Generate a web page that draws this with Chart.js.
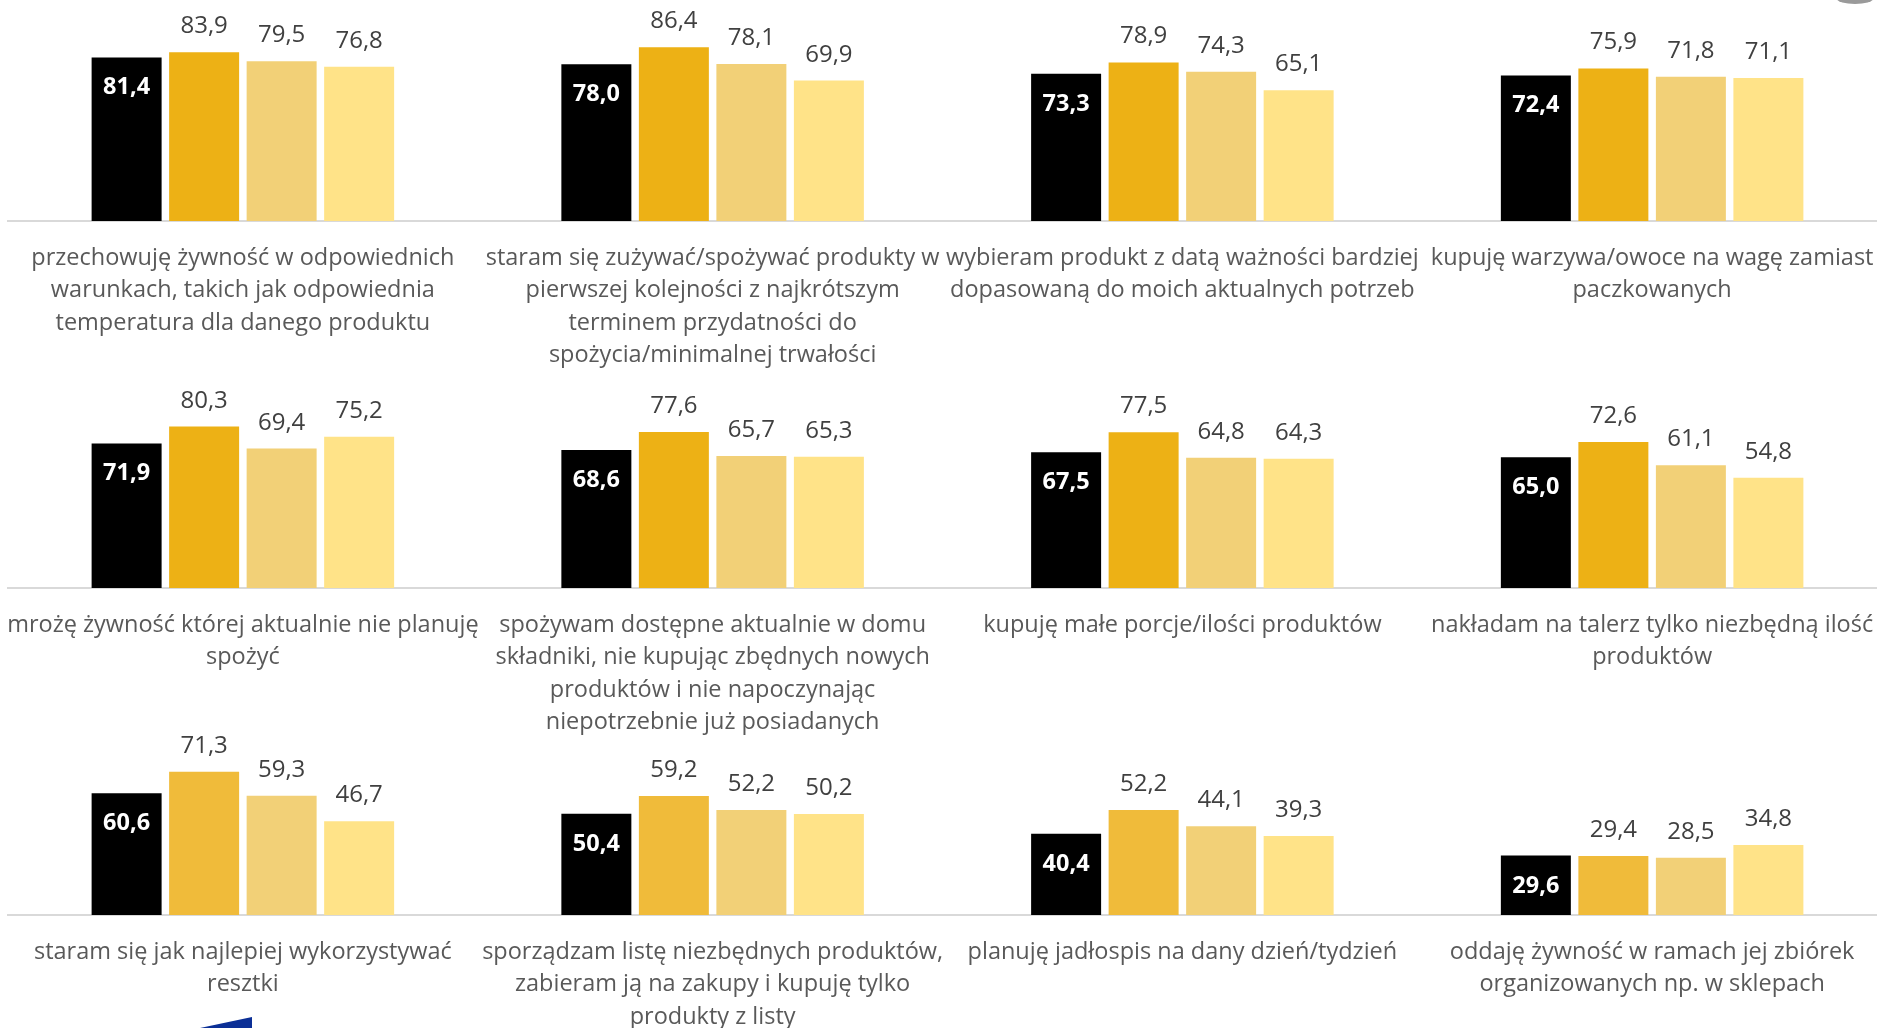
<!DOCTYPE html>
<html lang="pl">
<head>
<meta charset="utf-8">
<title>Zachowania ograniczające marnowanie żywności</title>
<script src="https://cdn.jsdelivr.net/npm/chart.js@4.4.1/dist/chart.umd.min.js"></script>
<style>
  html, body { margin: 0; padding: 0; background: #fff; overflow: hidden; }
  .page { position: relative; width: 1877px; height: 1028px; overflow: hidden; }
  .page canvas { position: absolute; }
  .blob { position: absolute; left: 1837px; top: -6px; width: 36px; height: 10px; border-radius: 50%; background: #9a9a9a; }
  .flag { position: absolute; left: 200px; top: 1017px; width: 52px; height: 11px; background: #0b2f96; clip-path: polygon(0 100%, 100% 0, 100% 100%); }
</style>
</head>
<body>
<div class="page" id="page">
  <div class="blob"></div>
  <div class="flag"></div>
</div>
<script>
const seriesNames = ["Seria 1", "Seria 2", "Seria 3", "Seria 4"];

const categoriesTop = [
  ["przechowuję żywność w odpowiednich", "warunkach, takich jak odpowiednia", "temperatura dla danego produktu"],
  ["staram się zużywać/spożywać produkty w", "pierwszej kolejności z najkrótszym", "terminem przydatności do", "spożycia/minimalnej trwałości"],
  ["wybieram produkt z datą ważności bardziej", "dopasowaną do moich aktualnych potrzeb"],
  ["kupuję warzywa/owoce na wagę zamiast", "paczkowanych"]
];
const categoriesMiddle = [
  ["mrożę żywność której aktualnie nie planuję", "spożyć"],
  ["spożywam dostępne aktualnie w domu", "składniki, nie kupując zbędnych nowych", "produktów i nie napoczynając", "niepotrzebnie już posiadanych"],
  ["kupuję małe porcje/ilości produktów"],
  ["nakładam na talerz tylko niezbędną ilość", "produktów"]
];
const categoriesBottom = [
  ["staram się jak najlepiej wykorzystywać", "resztki"],
  ["sporządzam listę niezbędnych produktów,", "zabieram ją na zakupy i kupuję tylko", "produkty z listy"],
  ["planuję jadłospis na dany dzień/tydzień"],
  ["oddaję żywność w ramach jej zbiórek", "organizowanych np. w sklepach"]
];

const topA = [81.4, 78.0, 73.3, 72.4];
const topB = [83.9, 86.4, 78.9, 75.9];
const topC = [79.5, 78.1, 74.3, 71.8];
const topD = [76.8, 69.9, 65.1, 71.1];

const middleA = [71.9, 68.6, 67.5, 65.0];
const middleB = [80.3, 77.6, 77.5, 72.6];
const middleC = [69.4, 65.7, 64.8, 61.1];
const middleD = [75.2, 65.3, 64.3, 54.8];

const bottomA = [60.6, 50.4, 40.4, 29.6];
const bottomB = [71.3, 59.2, 52.2, 29.4];
const bottomC = [59.3, 52.2, 44.1, 28.5];
const bottomD = [46.7, 50.2, 39.3, 34.8];

const FONT = "'Open Sans', 'Noto Sans', sans-serif";
const fmt = (v) => v.toFixed(1).replace(".", ",");

// labels: white bold inside the first bar, grey above the others
const valueLabels = {
  id: "valueLabels",
  afterDatasetsDraw(chart) {
    const { ctx } = chart;
    chart.data.datasets.forEach((ds, i) => {
      chart.getDatasetMeta(i).data.forEach((bar, j) => {
        ctx.save();
        ctx.textAlign = "center";
        ctx.textBaseline = "alphabetic";
        if (i === 0) {
          ctx.font = `bold 23.5px ${FONT}`;
          ctx.fillStyle = "#ffffff";
          ctx.fillText(fmt(ds.data[j]), bar.x, bar.y + 37);
        } else {
          ctx.font = `24px ${FONT}`;
          ctx.fillStyle = "#404040";
          ctx.fillText(fmt(ds.data[j]), bar.x, bar.y - 19);
        }
        ctx.restore();
      });
    });
  }
};

const M = 100;          // canvas overhang on each side
const ABOVE = 230;      // canvas px above the baseline
const AXIS_H = 150;     // room for category labels

function makeRow(baseline, categories, series, orange) {
  const canvas = document.createElement("canvas");
  const w = 1877 + 2 * M;
  const h = ABOVE + AXIS_H;
  canvas.width = w;
  canvas.height = h;
  canvas.style.left = -M + "px";
  canvas.style.top = (baseline - ABOVE) + "px";
  canvas.style.width = w + "px";
  canvas.style.height = h + "px";
  document.getElementById("page").appendChild(canvas);

  const colors = ["#000000", orange, "#F2D077", "#FFE388"];

  new Chart(canvas, {
    type: "bar",
    data: {
      labels: categories,
      datasets: series.map((data, i) => ({
        label: seriesNames[i],
        data,
        backgroundColor: colors[i],
        borderWidth: 0,
        categoryPercentage: 0.66,
        barPercentage: 0.903,
      })),
    },
    options: {
      responsive: false,
      animation: false,
      layout: { padding: { left: M + 8, right: M - 10, top: ABOVE - 201, bottom: 0 } },
      plugins: { legend: { display: false }, tooltip: { enabled: false } },
      scales: {
        x: {
          grid: { display: false, drawTicks: false },
          border: { display: true, color: "#D9D9D9", width: 2 },
          ticks: {
            autoSkip: false,
            maxRotation: 0,
            minRotation: 0,
            padding: 21,
            color: "#595959",
            font: { family: FONT, size: 23.5, lineHeight: 1.38 },
          },
          afterFit(scale) { scale.height = AXIS_H; },
        },
        y: { display: false, min: 0, max: 100 },
      },
    },
    plugins: [valueLabels],
  });
}

makeRow(221, categoriesTop, [topA, topB, topC, topD], "#EDB115");
makeRow(588, categoriesMiddle, [middleA, middleB, middleC, middleD], "#EDB115");
makeRow(915, categoriesBottom, [bottomA, bottomB, bottomC, bottomD], "#F0BB3A");
</script>
</body>
</html>
